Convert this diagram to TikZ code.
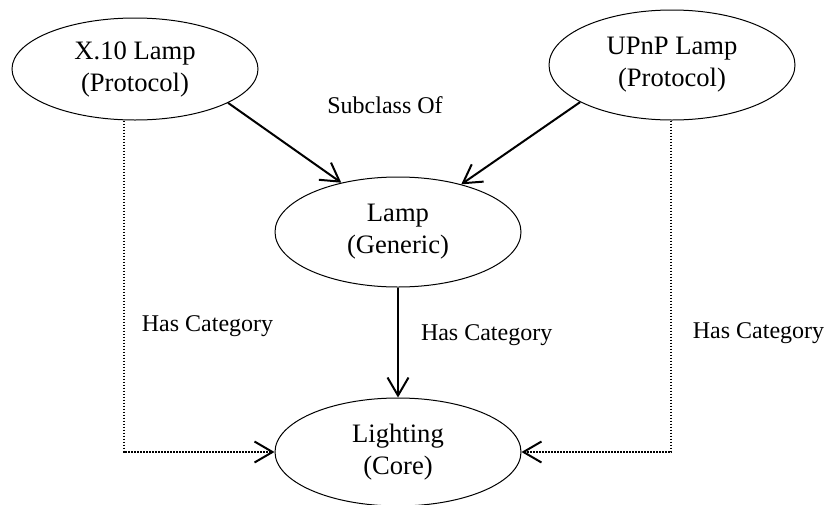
\documentclass[tikz,border=0pt]{standalone}
\usepackage{fontspec}
\setmainfont{Liberation Serif}
\usetikzlibrary{arrows.meta,shapes.geometric}

\begin{document}
\begin{tikzpicture}[x=0.5pt,y=-0.5pt,
  cls/.style={draw,ellipse,line width=0.5pt,minimum width=123pt,minimum height=55pt,inner sep=0pt,align=center,font=\fontsize{13.3}{16}\selectfont},
  lbl/.style={inner sep=0pt,font=\fontsize{12}{14}\selectfont},
  subof/.style={line width=1pt,-{Straight Barb[length=9pt,width=10.5pt,line width=1pt]}},
  hascat/.style={line width=0.9pt,dash pattern=on 0.8pt off 0.7pt,-{Straight Barb[length=9pt,width=10.5pt,line width=1pt]}}]
\useasboundingbox (0,0) rectangle (824,504);
\node[cls,minimum height=51pt] (x10) at (135,69) {X.10 Lamp\\(Protocol)};
\node[cls] (upnp) at (672,65) {UPnP Lamp\\(Protocol)};
\node[cls] (lamp) at (398,232) {Lamp\\(Generic)};
\node[cls,minimum height=54pt] (lighting) at (398,452) {Lighting\\(Core)};
\coordinate (lcorner) at (124,452);
\coordinate (rcorner) at (671,452);
\node[lbl] (subcl) at (385,105) {Subclass Of};
\draw[subof] (x10.-20) -- (lamp.139); %protocol -> generic
\draw[subof] (upnp.-158) -- (lamp.37);
\draw[subof] (lamp) -- node [lbl,right=11pt,pos=0.43] {Has Category} (lighting); %generic -> core
\draw[hascat] (lcorner |- x10.south) -- node [lbl,right=8.5pt,pos=0.62] {Has Category} (lcorner) -- (lighting.west); %protocol -> core
\draw[hascat] (rcorner |- upnp.south) -- node [lbl,right=10.5pt,pos=0.64] {Has Category} (rcorner) -- (lighting.east);
\end{tikzpicture}
\end{document}
